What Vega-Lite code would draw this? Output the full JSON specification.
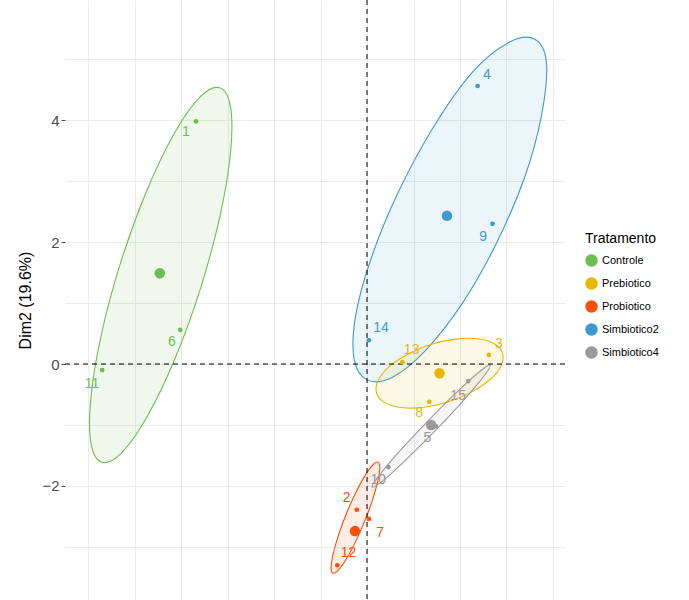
{
  "$schema": "https://vega.github.io/schema/vega-lite/v6.json",
  "width": 500,
  "height": 600,
  "autosize": {"type": "none"},
  "padding": {"left": 65, "top": 0, "right": 124, "bottom": 0},
  "background": "white",
  "config": {"view": {"stroke": null}, "font": "Liberation Sans"},
  "datasets": {
    "pts": [
      {"g": "Controle", "id": "1", "x": -1.84, "y": 3.98, "lx": -1.95, "ly": 3.80},
      {"g": "Controle", "id": "6", "x": -2.01, "y": 0.56, "lx": -2.10, "ly": 0.36},
      {"g": "Controle", "id": "11", "x": -2.85, "y": -0.10, "lx": -2.96, "ly": -0.33},
      {"g": "Simbiotico2", "id": "4", "x": 1.19, "y": 4.56, "lx": 1.29, "ly": 4.74},
      {"g": "Simbiotico2", "id": "9", "x": 1.35, "y": 2.30, "lx": 1.25, "ly": 2.08},
      {"g": "Simbiotico2", "id": "14", "x": 0.02, "y": 0.39, "lx": 0.15, "ly": 0.59},
      {"g": "Prebiotico", "id": "3", "x": 1.31, "y": 0.15, "lx": 1.42, "ly": 0.33},
      {"g": "Prebiotico", "id": "13", "x": 0.38, "y": 0.03, "lx": 0.48, "ly": 0.23},
      {"g": "Prebiotico", "id": "8", "x": 0.67, "y": -0.62, "lx": 0.56, "ly": -0.80},
      {"g": "Probiotico", "id": "2", "x": -0.11, "y": -2.39, "lx": -0.22, "ly": -2.20},
      {"g": "Probiotico", "id": "7", "x": 0.02, "y": -2.54, "lx": 0.14, "ly": -2.77},
      {"g": "Probiotico", "id": "12", "x": -0.32, "y": -3.30, "lx": -0.20, "ly": -3.10},
      {"g": "Simbiotico4", "id": "15", "x": 1.09, "y": -0.28, "lx": 0.98, "ly": -0.52},
      {"g": "Simbiotico4", "id": "5", "x": 0.74, "y": -1.02, "lx": 0.65, "ly": -1.21},
      {"g": "Simbiotico4", "id": "10", "x": 0.23, "y": -1.69, "lx": 0.12, "ly": -1.90}
    ],
    "cent": [
      {"g": "Controle", "x": -2.23, "y": 1.49},
      {"g": "Simbiotico2", "x": 0.86, "y": 2.43},
      {"g": "Prebiotico", "x": 0.78, "y": -0.15},
      {"g": "Probiotico", "x": -0.13, "y": -2.74},
      {"g": "Simbiotico4", "x": 0.69, "y": -1.0}
    ],
    "ell": [
      {"g": "Controle", "i": 1, "x": -1.586, "y": 4.53},
      {"g": "Controle", "i": 2, "x": -1.469, "y": 4.217},
      {"g": "Controle", "i": 3, "x": -1.468, "y": 3.482},
      {"g": "Controle", "i": 4, "x": -1.58, "y": 2.442},
      {"g": "Controle", "i": 5, "x": -1.79, "y": 1.25},
      {"g": "Controle", "i": 6, "x": -2.066, "y": 0.09},
      {"g": "Controle", "i": 7, "x": -2.364, "y": -0.858},
      {"g": "Controle", "i": 8, "x": -2.641, "y": -1.457},
      {"g": "Controle", "i": 9, "x": -2.854, "y": -1.61},
      {"g": "Controle", "i": 10, "x": -2.971, "y": -1.297},
      {"g": "Controle", "i": 11, "x": -2.972, "y": -0.562},
      {"g": "Controle", "i": 12, "x": -2.86, "y": 0.478},
      {"g": "Controle", "i": 13, "x": -2.65, "y": 1.67},
      {"g": "Controle", "i": 14, "x": -2.374, "y": 2.83},
      {"g": "Controle", "i": 15, "x": -2.076, "y": 3.778},
      {"g": "Controle", "i": 16, "x": -1.799, "y": 4.377},
      {"g": "Simbiotico2", "i": 1, "x": 1.80, "y": 5.33},
      {"g": "Simbiotico2", "i": 2, "x": 1.93, "y": 4.95},
      {"g": "Simbiotico2", "i": 3, "x": 1.88, "y": 4.1},
      {"g": "Simbiotico2", "i": 4, "x": 1.70, "y": 3.08},
      {"g": "Simbiotico2", "i": 5, "x": 1.392, "y": 1.98},
      {"g": "Simbiotico2", "i": 6, "x": 1.023, "y": 0.99},
      {"g": "Simbiotico2", "i": 7, "x": 0.628, "y": 0.22},
      {"g": "Simbiotico2", "i": 8, "x": 0.269, "y": -0.22},
      {"g": "Simbiotico2", "i": 9, "x": 0.0, "y": -0.26},
      {"g": "Simbiotico2", "i": 10, "x": -0.139, "y": 0.08},
      {"g": "Simbiotico2", "i": 11, "x": -0.124, "y": 0.78},
      {"g": "Simbiotico2", "i": 12, "x": 0.039, "y": 1.71},
      {"g": "Simbiotico2", "i": 13, "x": 0.33, "y": 2.8},
      {"g": "Simbiotico2", "i": 14, "x": 0.72, "y": 3.9},
      {"g": "Simbiotico2", "i": 15, "x": 1.13, "y": 4.78},
      {"g": "Simbiotico2", "i": 16, "x": 1.52, "y": 5.27},
      {"g": "Prebiotico", "i": 1, "x": 1.457, "y": 0.178},
      {"g": "Prebiotico", "i": 2, "x": 1.443, "y": -0.027},
      {"g": "Prebiotico", "i": 3, "x": 1.328, "y": -0.25},
      {"g": "Prebiotico", "i": 4, "x": 1.128, "y": -0.457},
      {"g": "Prebiotico", "i": 5, "x": 0.877, "y": -0.619},
      {"g": "Prebiotico", "i": 6, "x": 0.61, "y": -0.709},
      {"g": "Prebiotico", "i": 7, "x": 0.37, "y": -0.714},
      {"g": "Prebiotico", "i": 8, "x": 0.191, "y": -0.633},
      {"g": "Prebiotico", "i": 9, "x": 0.103, "y": -0.478},
      {"g": "Prebiotico", "i": 10, "x": 0.117, "y": -0.273},
      {"g": "Prebiotico", "i": 11, "x": 0.232, "y": -0.05},
      {"g": "Prebiotico", "i": 12, "x": 0.432, "y": 0.157},
      {"g": "Prebiotico", "i": 13, "x": 0.683, "y": 0.319},
      {"g": "Prebiotico", "i": 14, "x": 0.95, "y": 0.409},
      {"g": "Prebiotico", "i": 15, "x": 1.19, "y": 0.414},
      {"g": "Prebiotico", "i": 16, "x": 1.369, "y": 0.333},
      {"g": "Probiotico", "i": 1, "x": 0.117, "y": -1.61},
      {"g": "Probiotico", "i": 2, "x": 0.137, "y": -1.702},
      {"g": "Probiotico", "i": 3, "x": 0.116, "y": -1.92},
      {"g": "Probiotico", "i": 4, "x": 0.059, "y": -2.227},
      {"g": "Probiotico", "i": 5, "x": -0.026, "y": -2.581},
      {"g": "Probiotico", "i": 6, "x": -0.127, "y": -2.925},
      {"g": "Probiotico", "i": 7, "x": -0.226, "y": -3.206},
      {"g": "Probiotico", "i": 8, "x": -0.311, "y": -3.384},
      {"g": "Probiotico", "i": 9, "x": -0.367, "y": -3.43},
      {"g": "Probiotico", "i": 10, "x": -0.387, "y": -3.338},
      {"g": "Probiotico", "i": 11, "x": -0.366, "y": -3.12},
      {"g": "Probiotico", "i": 12, "x": -0.309, "y": -2.813},
      {"g": "Probiotico", "i": 13, "x": -0.224, "y": -2.459},
      {"g": "Probiotico", "i": 14, "x": -0.123, "y": -2.115},
      {"g": "Probiotico", "i": 15, "x": -0.024, "y": -1.834},
      {"g": "Probiotico", "i": 16, "x": 0.061, "y": -1.656},
      {"g": "Simbiotico4", "i": 1, "x": 1.324, "y": -0.02},
      {"g": "Simbiotico4", "i": 2, "x": 1.294, "y": -0.122},
      {"g": "Simbiotico4", "i": 3, "x": 1.171, "y": -0.362},
      {"g": "Simbiotico4", "i": 4, "x": 0.976, "y": -0.701},
      {"g": "Simbiotico4", "i": 5, "x": 0.736, "y": -1.089},
      {"g": "Simbiotico4", "i": 6, "x": 0.49, "y": -1.467},
      {"g": "Simbiotico4", "i": 7, "x": 0.275, "y": -1.776},
      {"g": "Simbiotico4", "i": 8, "x": 0.122, "y": -1.97},
      {"g": "Simbiotico4", "i": 9, "x": 0.056, "y": -2.02},
      {"g": "Simbiotico4", "i": 10, "x": 0.086, "y": -1.918},
      {"g": "Simbiotico4", "i": 11, "x": 0.209, "y": -1.678},
      {"g": "Simbiotico4", "i": 12, "x": 0.404, "y": -1.339},
      {"g": "Simbiotico4", "i": 13, "x": 0.644, "y": -0.951},
      {"g": "Simbiotico4", "i": 14, "x": 0.89, "y": -0.573},
      {"g": "Simbiotico4", "i": 15, "x": 1.105, "y": -0.264},
      {"g": "Simbiotico4", "i": 16, "x": 1.258, "y": -0.07}
    ],
    "zero": [{"v": 0}]
  },
  "encoding": {
    "x": {
      "field": "x", "type": "quantitative", "title": null,
      "scale": {"domain": [-3.25, 2.13], "nice": false, "zero": false},
      "axis": {"values": [-3, -2.5, -2, -1.5, -1, -0.5, 0, 0.5, 1, 1.5, 2], "gridColor": "#EBEBEB", "domain": false, "labels": false, "ticks": false}
    },
    "y": {
      "field": "y", "type": "quantitative", "title": "Dim2 (19.6%)",
      "scale": {"domain": [-3.87, 5.97], "nice": false, "zero": false},
      "axis": {
        "values": [-3, -2, -1, 0, 1, 2, 3, 4, 5],
        "labelExpr": "datum.value % 2 == 0 ? datum.label : ''",
        "labelFontSize": 15, "labelColor": "#4D4D4D", "labelPadding": 2,
        "tickColor": {"expr": "datum.value % 2 == 0 ? '#4D4D4D' : 'transparent'"},
        "tickSize": 4,
        "titleFontSize": 16, "titleFontWeight": "normal", "titleColor": "#000", "titlePadding": 8,
        "gridColor": "#EBEBEB", "domain": false
      }
    }
  },
  "layer": [
    {
      "data": {"name": "ell"},
      "mark": {"type": "line", "strokeWidth": 1.1, "fillOpacity": 0.1, "interpolate": "cardinal-closed"},
      "encoding": {
        "order": {"field": "i"},
        "detail": {"field": "g"},
        "color": {"field": "g", "type": "nominal"},
        "fill": {
          "field": "g", "type": "nominal", "legend": null,
          "scale": {"domain": ["Controle", "Prebiotico", "Probiotico", "Simbiotico2", "Simbiotico4"], "range": ["#6BBF4E", "#E7B800", "#FC4E07", "#3C9AD0", "#999999"]}
        }
      }
    },
    {
      "data": {"name": "zero"},
      "mark": {"type": "rule", "strokeDash": [5, 4], "color": "black"},
      "encoding": {"y": {"field": "v", "type": "quantitative"}, "x": null}
    },
    {
      "data": {"name": "zero"},
      "mark": {"type": "rule", "strokeDash": [5, 4], "color": "black"},
      "encoding": {"x": {"field": "v", "type": "quantitative"}, "y": null}
    },
    {
      "data": {"name": "pts"},
      "mark": {"type": "circle", "size": 22, "opacity": 1},
      "encoding": {
        "color": {
          "field": "g", "type": "nominal", "title": "Tratamento",
          "scale": {"domain": ["Controle", "Prebiotico", "Probiotico", "Simbiotico2", "Simbiotico4"], "range": ["#6BBF4E", "#E7B800", "#FC4E07", "#3C9AD0", "#999999"]},
          "legend": {"orient": "none", "legendX": 520, "legendY": 232, "titleFontSize": 14, "titleFontWeight": "normal", "titleColor": "#000", "titlePadding": 8, "labelFontSize": 11, "symbolType": "circle", "symbolSize": 120, "symbolOpacity": 1, "rowPadding": 6, "labelColor": "#000"}
        }
      }
    },
    {
      "data": {"name": "pts"},
      "mark": {"type": "text", "fontSize": 14},
      "encoding": {
        "x": {"field": "lx", "type": "quantitative"},
        "y": {"field": "ly", "type": "quantitative"},
        "text": {"field": "id"},
        "color": {"field": "g", "type": "nominal"}
      }
    },
    {
      "data": {"name": "cent"},
      "mark": {"type": "circle", "size": 110, "opacity": 1},
      "encoding": {"color": {"field": "g", "type": "nominal"}}
    }
  ]
}
